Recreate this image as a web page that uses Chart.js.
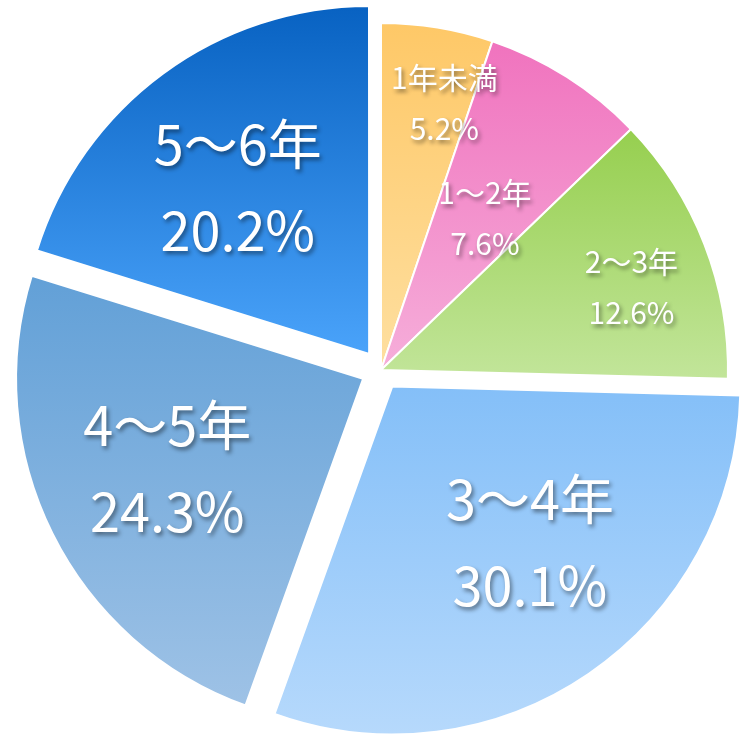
<!DOCTYPE html>
<html>
<head>
<meta charset="utf-8">
<script src="https://cdn.jsdelivr.net/npm/chart.js@4"></script>
<style>
  html, body { margin: 0; padding: 0; background: #fff; }
  #wrap { width: 750px; height: 750px; }
</style>
</head>
<body>
<div id="wrap"><canvas id="YearsChart" width="750" height="750"></canvas></div>
<script>
// chart data
const labels = ['1年未満', '1〜2年', '2〜3年', '3〜4年', '4〜5年', '5〜6年'];
const shares = [5.2, 7.6, 12.6, 30.1, 24.3, 20.2];

// gradient colours (top, bottom) for each slice
const topColors = ['#FEC867', '#F073BE', '#96CF4F', '#84BFF8', '#62A0D7', '#0862C2'];
const bottomColors = ['#FEDFA0', '#F6AEDA', '#C2E59A', '#B6D9FC', '#9EC2E6', '#4AA3FA'];

// label styling per slice
const labelSizes = [30, 30, 30, 54, 54, 54];
const labelGaps = [51, 51, 51, 86, 86, 86];
const labelDist = [0.79, 0.53, 0.76, 0.6, 0.62, 0.61];
const labelShift = [4, 2, 3, -7, 2, -2]; // degrees

// vertical gradient over each arc's own box
const gradientPlugin = {
    id: 'sliceGradient',
    beforeDatasetsDraw(chart) {
        const ctx = chart.ctx;
        const meta = chart.getDatasetMeta(0);
        meta.data.forEach((arc, i) => {
            const p = arc.getProps(['x', 'y', 'startAngle', 'endAngle', 'outerRadius']);
            let minY = p.y, maxY = p.y;
            for (let k = 0; k <= 60; k++) {
                const a = p.startAngle + (p.endAngle - p.startAngle) * k / 60;
                const y = p.y + Math.sin(a) * p.outerRadius;
                minY = Math.min(minY, y);
                maxY = Math.max(maxY, y);
            }
            const g = ctx.createLinearGradient(0, minY, 0, maxY);
            g.addColorStop(0, topColors[i]);
            g.addColorStop(1, bottomColors[i]);
            arc.options.backgroundColor = g;
        });
    }
};

// two-line white labels with shadow
const labelPlugin = {
    id: 'sliceLabels',
    afterDatasetsDraw(chart) {
        const ctx = chart.ctx;
        const meta = chart.getDatasetMeta(0);
        meta.data.forEach((arc, i) => {
            const p = arc.getProps(['x', 'y', 'startAngle', 'endAngle', 'outerRadius']);
            const mid = (p.startAngle + p.endAngle) / 2;
            const off = (arc.options.offset || 0) / 4;
            const ang = mid + labelShift[i] * Math.PI / 180;
            const cx = p.x + Math.cos(mid) * off + Math.cos(ang) * p.outerRadius * labelDist[i];
            const cy = p.y + Math.sin(mid) * off + Math.sin(ang) * p.outerRadius * labelDist[i];
            const size = labelSizes[i];
            const gap = labelGaps[i];

            ctx.save();
            ctx.font = '400 ' + size + 'px "Noto Sans CJK JP", "Noto Sans", sans-serif';
            ctx.textAlign = 'center';
            ctx.textBaseline = 'middle';
            ctx.fillStyle = '#ffffff';
            ctx.shadowColor = 'rgba(0, 0, 0, 0.45)';
            ctx.shadowBlur = 4;
            ctx.shadowOffsetX = 2;
            ctx.shadowOffsetY = 3;
            ctx.fillText(labels[i], cx, cy - gap / 2);
            ctx.fillText(shares[i].toFixed(1) + '%', cx, cy + gap / 2);
            ctx.restore();
        });
    }
};

const ctx = document.getElementById('YearsChart');
new Chart(ctx, {
    type: 'pie',
    data: {
        labels: labels,
        datasets: [{
            data: shares,
            backgroundColor: topColors,
            borderColor: '#ffffff',
            borderWidth: 2,
            offset: [0, 0, 0, 80, 80, 80]
        }]
    },
    options: {
        responsive: false,
        animation: false,
        radius: 347,
        layout: {
            padding: { left: 12, right: 0, top: 0, bottom: 10 }
        },
        plugins: {
            legend: { display: false },
            tooltip: { enabled: false }
        }
    },
    plugins: [gradientPlugin, labelPlugin]
});
</script>
</body>
</html>
